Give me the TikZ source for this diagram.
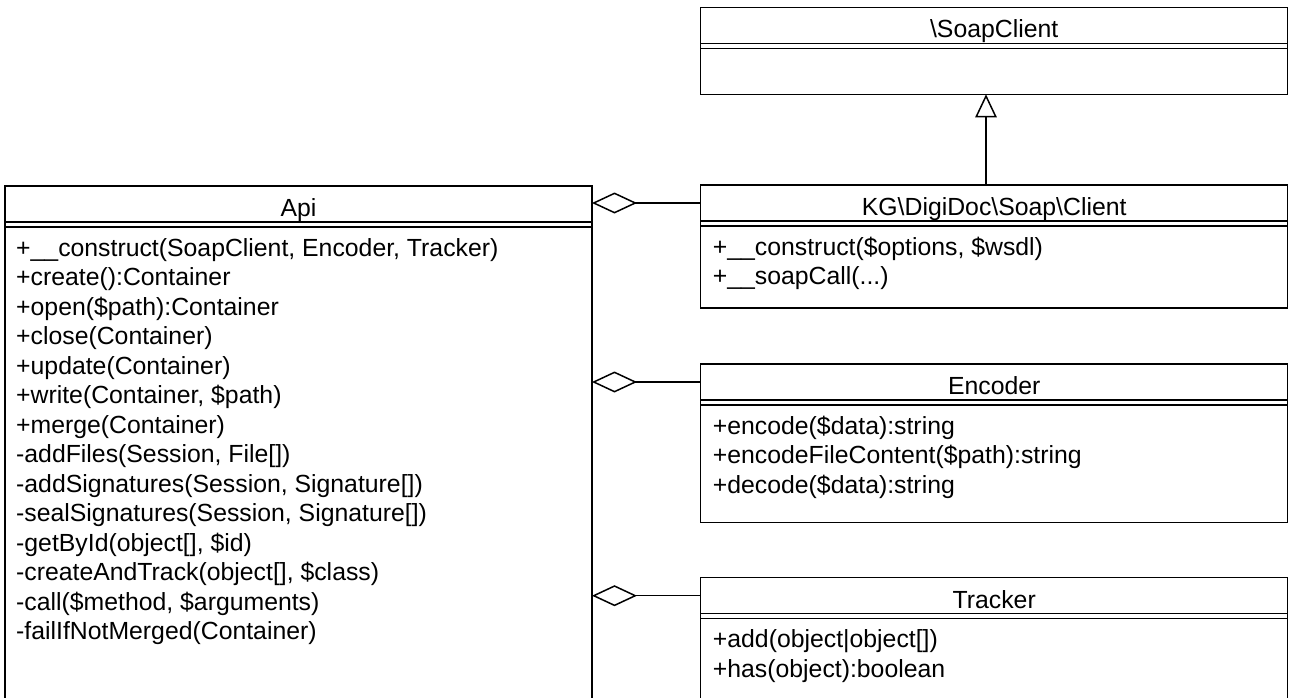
\documentclass[tikz,border=0pt]{standalone}
\usepackage{fontspec}
\setmainfont{Liberation Sans}
\usetikzlibrary{arrows.meta}
\begin{document}
\begin{tikzpicture}[x=1pt,y=-1pt,
  box/.style={draw=black, line width=1.5pt, anchor=north west, inner sep=0pt, outer sep=0pt, minimum width=587pt},
  sep/.style={draw=black, line width=1.5pt},
  mtxt/.style={font=\fontsize{24.8}{30}\selectfont, inner sep=0pt, anchor=base west},
  ttl/.style={font=\fontsize{24.8}{30}\selectfont, inner sep=0pt, anchor=base},
  agg/.style={draw=black, line width=1.5pt, -{Diamond[open, length=45pt, width=21pt]}},
  inh/.style={draw=black, line width=1.5pt, -{Triangle[open, length=23pt, width=21.4pt]}}]
\useasboundingbox (0,0) rectangle (1290,698);
\clip (0,0) rectangle (1290,698);
% boxes
\node[box, minimum height=560pt] (api) at (5,186) {};
\node[box, minimum height=87pt] (soap) at (700.7,7.3) {};
\node[box, minimum height=123pt] (kg) at (700.7,185) {};
\node[box, minimum height=158.7pt] (enc) at (700.7,364) {};
\node[box, minimum height=200pt] (trk) at (700.7,577.7) {};
% header separators (double lines)
\foreach \b in {api,soap,kg,enc,trk}{
  \draw[sep] ([yshift=-36pt]\b.north west) -- ([yshift=-36pt]\b.north east);
  \draw[sep] ([yshift=-41pt]\b.north west) -- ([yshift=-41pt]\b.north east);
}
% titles
\node[ttl] (apit) at ([yshift=-30.5pt]api.north) {Api};
\node[ttl] (soapt) at ([yshift=-30.5pt]soap.north) {\textbackslash SoapClient};
\node[ttl] (kgt) at ([yshift=-30.5pt]kg.north) {KG\textbackslash DigiDoc\textbackslash Soap\textbackslash Client};
\node[ttl] (enct) at ([yshift=-30.5pt]enc.north) {Encoder};
\node[ttl] (trkt) at ([yshift=-30.5pt]trk.north) {Tracker};
% methods
\foreach \t [count=\i from 0] in {
  {+\_\_construct(SoapClient, Encoder, Tracker)},
  {+create():Container},
  {+open(\$path):Container},
  {+close(Container)},
  {+update(Container)},
  {+write(Container, \$path)},
  {+merge(Container)},
  {-addFiles(Session, File[])},
  {-addSignatures(Session, Signature[])},
  {-sealSignatures(Session, Signature[])},
  {-getById(object[], \$id)},
  {-createAndTrack(object[], \$class)},
  {-call(\$method, \$arguments)},
  {-failIfNotMerged(Container)}}{
  \node[mtxt] (apim\i) at ([xshift=11pt,yshift={-70pt-29.5pt*\i}]api.north west) {\t};
}
\node[mtxt] (kgm0) at ([xshift=12pt,yshift=-70pt]kg.north west) {+\_\_construct(\$options, \$wsdl)};
\node[mtxt] (kgm1) at ([xshift=12pt,yshift=-99.5pt]kg.north west) {+\_\_soapCall(...)};
\node[mtxt] (encm0) at ([xshift=12pt,yshift=-70pt]enc.north west) {+encode(\$data):string};
\node[mtxt] (encm1) at ([xshift=12pt,yshift=-99.5pt]enc.north west) {+encodeFileContent(\$path):string};
\node[mtxt] (encm2) at ([xshift=12pt,yshift=-129pt]enc.north west) {+decode(\$data):string};
\node[mtxt] (trkm0) at ([xshift=12pt,yshift=-70pt]trk.north west) {+add(object|object[])};
\node[mtxt] (trkm1) at ([xshift=12pt,yshift=-99.5pt]trk.north west) {+has(object):boolean};
% connectors
\coordinate (ax) at (986,0);
\draw[inh] (ax |- kg.north) -- (ax |- soap.south);
\coordinate (kgy) at ([yshift=-18pt]kg.north west);
\coordinate (ency) at ([yshift=-18pt]enc.north west);
\coordinate (trky) at ([yshift=-18pt]trk.north west);
\draw[agg] (kgy) -- (api.east |- kgy);
\draw[agg] (ency) -- (api.east |- ency);
\draw[agg] (trky) -- (api.east |- trky);
\end{tikzpicture}
\end{document}
